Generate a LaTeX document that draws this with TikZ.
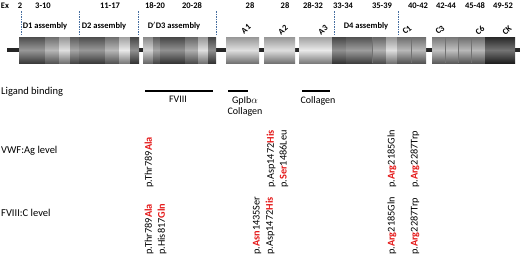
\documentclass[tikz,border=0pt]{standalone}
\usepackage{fontspec}
\setmainfont{Carlito}
\definecolor{mutred}{RGB}{228,24,24}
\definecolor{guideblue}{RGB}{70,110,160}
\newcommand\segm[3]{\path[top color=black!#3!white!72!black, bottom color=black!#3!white!55!black, middle color=black!#3!white!70!white] (#1,37) rectangle (#2,63);}
\newcommand\rd[1]{\textcolor{mutred}{\bfseries #1}}
\begin{document}
\begin{tikzpicture}[x=1pt,y=-1pt,
  toplab/.style={font=\fontsize{8.5}{10}\selectfont\bfseries, inner sep=0},
  domlab/.style={toplab, rotate=40},
  rowlab/.style={font=\fontsize{10.5}{12}\selectfont, anchor=west, inner sep=0},
  liglab/.style={font=\fontsize{10}{12}\selectfont, inner sep=0, align=center},
  mut/.style={font=\fontsize{10.3}{12}\selectfont, rotate=90, anchor=west, inner sep=0},
  ligline/.style={line width=1.5pt},
  guide/.style={draw=guideblue, dash pattern=on 1.5pt off 1pt, line width=0.6pt},
  axisbar/.style={line width=4pt, draw=black!85},
  sep/.style={draw=black!55, line width=0.4pt}]
\useasboundingbox (0,0) rectangle (520,257);

% exon numbers
\node[toplab] (ex) at (5,6) {Ex};
\node[toplab] (e1) at (20,6) {2};
\node[toplab] (e2) at (43,6) {3-10};
\node[toplab] (e3) at (110,6) {11-17};
\node[toplab] (e4) at (155,6) {18-20};
\node[toplab] (e5) at (192,6) {20-28};
\node[toplab] (e6) at (250,6) {28};
\node[toplab] (e7) at (285,6) {28};
\node[toplab] (e8) at (313,6) {28-32};
\node[toplab] (e9) at (343,6) {33-34};
\node[toplab] (e10) at (382,6) {35-39};
\node[toplab] (e11) at (418,6) {40-42};
\node[toplab] (e12) at (446,6) {42-44};
\node[toplab] (e13) at (475,6) {45-48};
\node[toplab] (e14) at (503,6) {49-52};

% dashed guides
\foreach \gx in {21,79,138,216,334,398}
  \draw[guide] (\gx,11) -- (\gx,35);

% assembly labels
\node[toplab] (d1) at (45,26) {D1 assembly};
\node[toplab] (d2) at (104,26) {D2 assembly};
\node[toplab] (d3) at (174,26) {D$'$D3 assembly};
\node[toplab] (d4) at (366,26) {D4 assembly};

% domain labels
\node[domlab] (a1) at (246,29) {A1};
\node[domlab] (a2) at (283,30) {A2};
\node[domlab] (a3) at (323,30) {A3};
\node[domlab] (c1) at (407,30) {C1};
\node[domlab] (c3) at (440,30) {C3};
\node[domlab] (c6) at (480,30) {C6};
\node[domlab] (ck) at (507,30) {CK};

% axis
\draw[axisbar] (7,49.5) -- (520,49.5);

% box 1
\segm{19}{45}{58}\segm{45}{59}{40}\segm{59}{70}{18}\segm{70}{79}{50}
\segm{79}{105}{58}\segm{105}{119}{40}\segm{119}{130}{12}\segm{130}{139}{62}
% box 2
\segm{143}{153}{25}\segm{153}{160}{50}\segm{160}{185}{62}\segm{185}{198}{45}
\segm{198}{208}{18}\segm{208}{216}{62}
% A domains
\segm{226}{259}{18}\segm{264}{295}{18}\segm{299}{332}{12}
% D4 / C1
\segm{332}{346}{62}\segm{346}{372}{55}\segm{372}{386}{45}\segm{386}{397}{18}
\segm{397}{411}{40}\segm{411}{426}{40}
% C3..CK
\segm{432}{445}{35}\segm{445}{458}{35}\segm{458}{471}{40}\segm{471}{485}{40}
\segm{485}{515}{78}
\foreach \sx in {372,411,445,458,471}
  \draw[sep] (\sx,37) -- (\sx,63);

% row labels
\node[rowlab] (lb) at (1,92) {Ligand binding};
\node[rowlab] (vw) at (1,151) {VWF:Ag level};
\node[rowlab] (fc) at (1,213) {FVIII:C level};

% ligand binding
\coordinate (f1) at (145,91); \coordinate (f2) at (213,91);
\coordinate (g1) at (228,91); \coordinate (g2) at (248,91);
\coordinate (k1) at (302,91); \coordinate (k2) at (330,91);
\draw[ligline] (f1) -- (f2);
\draw[ligline] (g1) -- (g2);
\draw[ligline] (k1) -- (k2);
\node[liglab, anchor=north] (fviii) at (178,96) {FVIII};
\node[liglab, anchor=north] (gp) at (245,96) {GpIb$\alpha$\\[-1pt]Collagen};
\node[liglab, anchor=north] (col) at (318,96) {Collagen};

% VWF:Ag mutations
\node[mut] (v1) at (149,188) {p.Thr789\rd{Ala}};
\node[mut] (v2) at (271,188) {p.Asp1472\rd{His}};
\node[mut] (v3) at (284,188) {p.\rd{Ser}1486Leu};
\node[mut] (v4) at (392,188) {p.\rd{Arg}2185Gln};
\node[mut] (v5) at (415,188) {p.\rd{Arg}2287Trp};

% FVIII:C mutations
\node[mut] (m1) at (149,255) {p.Thr789\rd{Ala}};
\node[mut] (m2) at (162,255) {p.His817\rd{Gln}};
\node[mut] (m3) at (257,255) {p.\rd{Asn}1435Ser};
\node[mut] (m4) at (270,255) {p.Asp1472\rd{His}};
\node[mut] (m5) at (392,255) {p.\rd{Arg}2185Gln};
\node[mut] (m6) at (415,255) {p.\rd{Arg}2287Trp};
\end{tikzpicture}
\end{document}
